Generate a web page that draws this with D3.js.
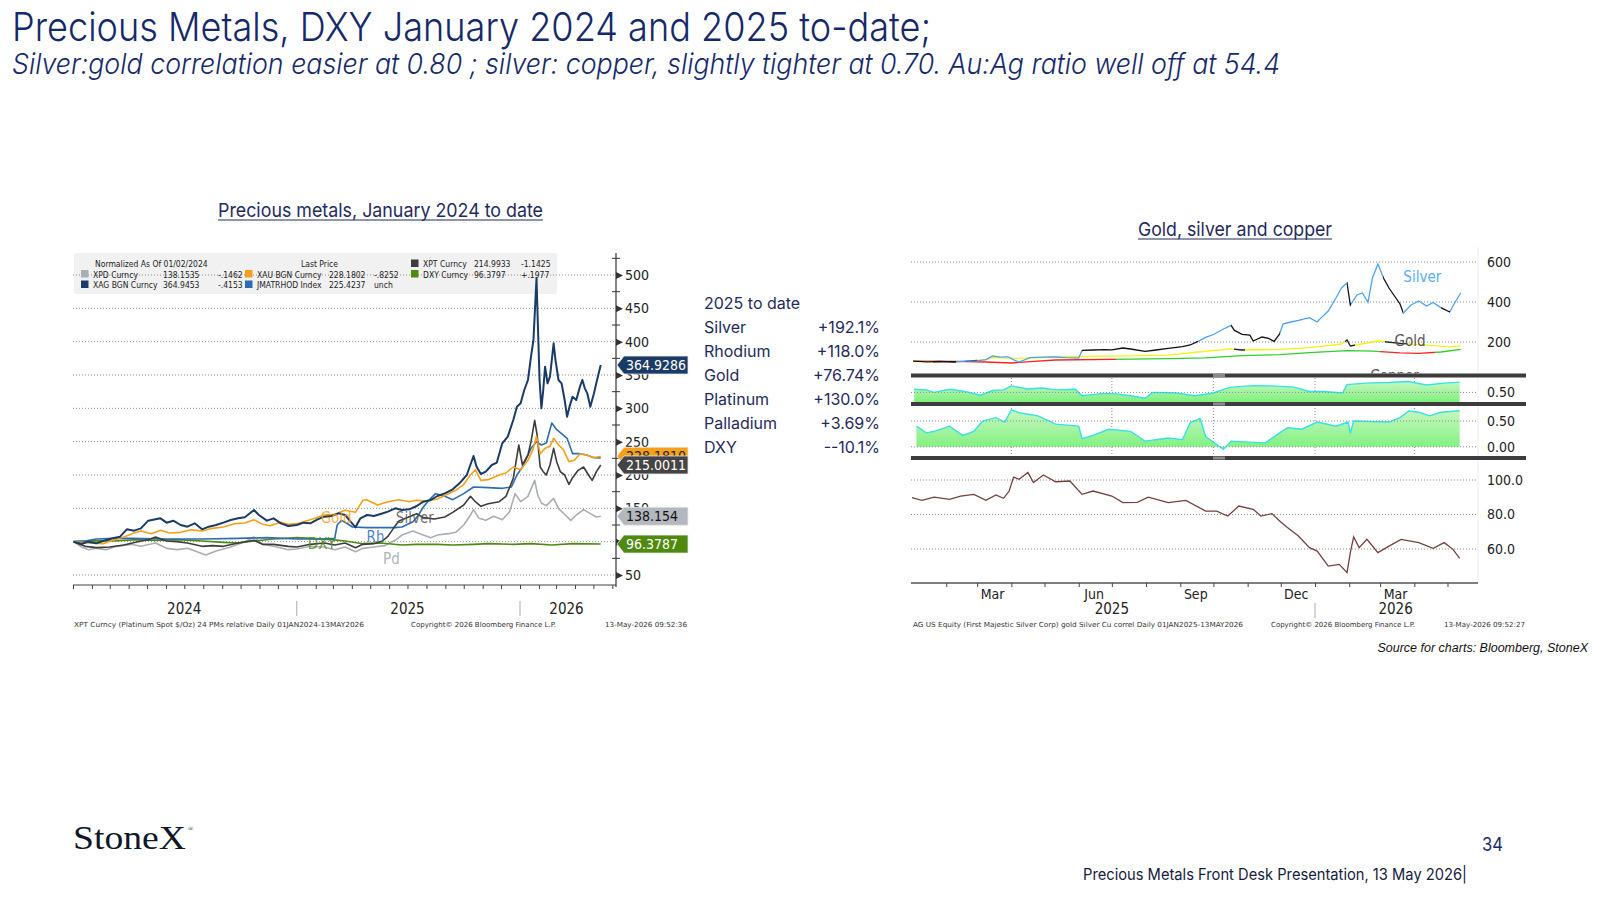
<!DOCTYPE html>
<html>
<head>
<meta charset="utf-8">
<title>Precious Metals, DXY</title>
<script src="https://cdn.jsdelivr.net/npm/d3@7"></script>
<style>
body { margin:0; background:#fff; }
svg { display:block; }
.grid { stroke:#8c8c8c; stroke-dasharray:1,2; stroke-width:1; }
</style>
</head>
<body>
<script>
//---------------- data ----------------

//slide texts
var mainTitle = "Precious Metals, DXY January 2024 and 2025 to-date;";
var subTitle = "Silver:gold correlation easier at 0.80 ; silver: copper, slightly tighter at 0.70.  Au:Ag ratio well off at 54.4";
var leftTitle = "Precious metals, January 2024 to date";
var rightTitle = "Gold, silver and copper";

//2025 to date table
var ytdNames = ["Silver", "Rhodium", "Gold", "Platinum", "Palladium", "DXY"];
var ytdValues = ["+192.1%", "+118.0%", "+76.74%", "+130.0%", "+3.69%", "--10.1%"];

//left chart, normalized to 100 on 01/02/2024
var silverPts = [
 ["2024-01-02",100],["2024-01-15",96.5],["2024-01-26",100],["2024-02-08",97.5],["2024-02-19",101],
 ["2024-03-06",105],["2024-03-18",107.5],["2024-03-29",118.5],["2024-04-10",116.5],["2024-04-21",120],
 ["2024-05-03",131.5],["2024-05-15",133.5],["2024-05-23",135],["2024-06-02",128.5],["2024-06-13",131.5],
 ["2024-06-25",125],["2024-07-06",122.5],["2024-07-18",127.5],["2024-07-30",118.5],["2024-08-10",122.5],
 ["2024-08-22",125],["2024-09-03",128.5],["2024-09-15",132.5],["2024-09-27",135],["2024-10-08",136.5],
 ["2024-10-23",147.5],["2024-10-31",140],["2024-11-13",131.5],["2024-11-24",135],["2024-12-06",127.5],
 ["2024-12-18",123.5],["2025-01-01",125],["2025-01-12",128.5],["2025-01-23",127.5],["2025-02-04",133.5],
 ["2025-02-15",137.5],["2025-02-27",138.5],["2025-03-10",142.5],["2025-03-21",140],["2025-03-30",130],
 ["2025-04-07",121.5],["2025-04-15",135],["2025-04-26",140],["2025-05-07",138.5],["2025-05-18",141.5],
 ["2025-05-30",145],["2025-06-11",150],["2025-06-22",147.5],["2025-07-04",148.5],["2025-07-16",153.5],
 ["2025-07-27",160],["2025-08-08",162.5],["2025-08-19",168.5],["2025-08-31",172.5],["2025-09-13",178.5],
 ["2025-09-24",187.5],["2025-10-06",200],["2025-10-17",228.5],["2025-10-22",212.5],["2025-10-29",201.5],
 ["2025-11-06",205],["2025-11-16",215],["2025-11-24",218.5],["2025-12-03",247.5],["2025-12-12",257.5],
 ["2025-12-21",282.5],["2025-12-27",302.5],["2026-01-02",307.5],["2026-01-08",327.5],["2026-01-14",342.5],
 ["2026-01-19",377.5],["2026-01-23",402.5],["2026-01-28",495],["2026-01-30",432.5],["2026-02-02",342.5],
 ["2026-02-05",300],["2026-02-08",327.5],["2026-02-11",362.5],["2026-02-15",337.5],["2026-02-19",347.5],
 ["2026-02-25",397.5],["2026-02-28",372.5],["2026-03-05",342.5],["2026-03-10",337.5],["2026-03-15",312.5],
 ["2026-03-19",287.5],["2026-03-23",302.5],["2026-03-28",317.5],["2026-04-03",312.5],["2026-04-09",332.5],
 ["2026-04-13",342.5],["2026-04-17",330],["2026-04-21",322.5],["2026-04-26",302.5],["2026-05-02",322.5],
 ["2026-05-07",342.5],["2026-05-13",364.9]
];
var goldPts = [
 ["2024-01-02",100],["2024-01-26",98],["2024-02-19",97],["2024-03-06",102],["2024-03-24",107],
 ["2024-04-10",113],["2024-04-21",116],["2024-05-08",112],["2024-05-23",117],["2024-06-07",113],
 ["2024-06-25",114],["2024-07-12",118],["2024-07-30",116],["2024-08-16",120],["2024-09-03",122],
 ["2024-09-21",127],["2024-10-08",128],["2024-10-23",133],["2024-11-06",126],["2024-11-18",124],
 ["2024-12-06",129],["2024-12-18",126],["2025-01-01",127],["2025-01-23",133],["2025-02-15",140],
 ["2025-03-04",141],["2025-03-21",147],["2025-04-07",144],["2025-04-19",162],["2025-04-25",163],
 ["2025-05-13",155],["2025-05-30",160],["2025-06-17",163],["2025-07-04",160],["2025-07-16",162],
 ["2025-08-02",161],["2025-08-19",164],["2025-09-06",172],["2025-09-18",177],["2025-10-01",186],
 ["2025-10-12",200],["2025-10-20",208],["2025-10-29",192],["2025-11-10",193],["2025-11-28",200],
 ["2025-12-09",203],["2025-12-21",212],["2026-01-02",208],["2026-01-14",222],["2026-01-22",238],
 ["2026-01-28",258],["2026-02-03",232],["2026-02-11",240],["2026-02-19",243],["2026-02-25",255],
 ["2026-03-05",245],["2026-03-13",238],["2026-03-22",220],["2026-03-31",222],["2026-04-09",232],
 ["2026-04-20",230],["2026-05-02",226],["2026-05-13",228.2]
];
var platPts = [
 ["2024-01-02",100],["2024-01-21",93],["2024-02-08",91],["2024-03-01",92],["2024-03-24",95],
 ["2024-04-16",100],["2024-05-03",103],["2024-05-15",107],["2024-06-02",101],["2024-06-19",100],
 ["2024-07-06",98],["2024-07-30",93],["2024-08-16",94],["2024-09-03",93],["2024-09-27",98],
 ["2024-10-23",102],["2024-11-06",96],["2024-11-24",96],["2024-12-18",93],["2025-01-01",92],
 ["2025-01-23",96],["2025-02-15",98],["2025-03-04",95],["2025-03-21",98],["2025-04-07",91],
 ["2025-04-19",96],["2025-05-07",97],["2025-05-21",101],["2025-05-30",108],["2025-06-08",120],
 ["2025-06-17",131],["2025-06-28",135],["2025-07-16",142],["2025-07-27",136],["2025-08-14",134],
 ["2025-08-31",137],["2025-09-13",144],["2025-10-01",155],["2025-10-12",168],["2025-10-20",160],
 ["2025-10-29",153],["2025-11-10",157],["2025-11-28",160],["2025-12-09",168],["2025-12-21",195],
 ["2025-12-30",245],["2026-01-05",215],["2026-01-14",230],["2026-01-19",250],["2026-01-25",282],
 ["2026-01-29",260],["2026-02-03",212],["2026-02-08",205],["2026-02-13",200],["2026-02-19",215],
 ["2026-02-25",240],["2026-03-02",220],["2026-03-08",205],["2026-03-15",200],["2026-03-22",186],
 ["2026-03-28",196],["2026-04-06",207],["2026-04-15",212],["2026-04-23",200],["2026-04-29",192],
 ["2026-05-06",205],["2026-05-13",215]
];
var pallPts = [
 ["2024-01-02",100],["2024-01-15",92],["2024-01-26",88],["2024-02-08",90],["2024-02-24",88],
 ["2024-03-12",93],["2024-04-05",96],["2024-04-21",93],["2024-05-15",98],["2024-06-02",90],
 ["2024-06-19",88],["2024-07-06",90],["2024-07-24",84],["2024-08-05",80],["2024-08-22",86],
 ["2024-09-15",92],["2024-10-08",100],["2024-10-23",107],["2024-11-06",96],["2024-11-24",93],
 ["2024-12-18",88],["2025-01-01",89],["2025-01-23",93],["2025-02-15",92],["2025-03-04",88],
 ["2025-03-21",92],["2025-04-07",85],["2025-04-19",90],["2025-05-07",92],["2025-05-24",94],
 ["2025-06-11",102],["2025-06-22",110],["2025-07-10",116],["2025-07-21",112],["2025-08-08",106],
 ["2025-08-19",110],["2025-09-06",112],["2025-09-18",114],["2025-10-01",125],["2025-10-12",140],
 ["2025-10-17",148],["2025-10-26",135],["2025-11-06",132],["2025-11-19",138],["2025-12-03",133],
 ["2025-12-15",145],["2025-12-24",172],["2026-01-02",160],["2026-01-14",168],["2026-01-25",192],
 ["2026-01-30",170],["2026-02-05",158],["2026-02-13",154],["2026-02-25",165],["2026-03-05",150],
 ["2026-03-16",140],["2026-03-25",132],["2026-04-03",140],["2026-04-15",148],["2026-04-26",142],
 ["2026-05-06",137],["2026-05-13",138.2]
];
var rhodPts = [
 ["2024-01-02",100],["2024-01-21",101],["2024-02-08",104],["2024-03-06",105],["2024-04-05",105],
 ["2024-06-02",104],["2024-07-30",104],["2024-09-27",105],["2024-11-13",106],["2025-01-01",104],
 ["2025-02-15",104],["2025-03-04",105],["2025-03-08",125],["2025-03-15",132],["2025-03-23",128],
 ["2025-04-02",122],["2025-04-26",121],["2025-05-18",121],["2025-06-11",121],["2025-06-22",122],
 ["2025-07-10",130],["2025-07-19",140],["2025-07-27",152],["2025-08-08",165],["2025-08-16",172],
 ["2025-08-31",168],["2025-09-13",163],["2025-10-01",172],["2025-10-17",182],["2025-11-10",181],
 ["2025-12-03",180],["2025-12-18",182],["2025-12-27",200],["2026-01-05",212],["2026-01-19",240],
 ["2026-01-28",250],["2026-02-05",245],["2026-02-13",248],["2026-02-22",278],["2026-03-02",268],
 ["2026-03-10",262],["2026-03-19",255],["2026-03-28",232],["2026-04-09",232],["2026-04-20",230],
 ["2026-05-02",226],["2026-05-13",225.4]
];
var dxyPts = [
 ["2024-01-02",100],["2024-02-08",101.5],["2024-03-06",101],["2024-04-16",103],["2024-05-15",102],
 ["2024-06-19",103],["2024-07-30",101],["2024-09-03",99],["2024-09-27",98],["2024-10-23",101],
 ["2024-11-24",104],["2025-01-01",106],["2025-01-23",105],["2025-02-27",103],["2025-03-21",101],
 ["2025-04-19",97],["2025-05-18",98],["2025-06-22",95],["2025-07-16",96],["2025-08-19",96],
 ["2025-09-13",95],["2025-10-17",96],["2025-11-10",97],["2025-12-21",96],["2026-01-19",97],
 ["2026-02-22",95],["2026-03-28",97],["2026-05-13",96.4]
];
var leftTicks = [50, 100, 150, 200, 250, 300, 350, 400, 450, 500];
var leftYears = ["2024", "2025", "2026"];
var leftYearDates = ["2024-07-01", "2025-07-01", "2026-03-18"];
var leftNotes = [["Gold","2025-02-09",128],["Silver","2025-06-12",128],["Rh","2025-04-25",99.5],["DXY","2025-01-19",89],["Pd","2025-05-22",66.5]];
var tagValues = [364.9286, 228.1810, 215.0011, 138.154, 96.3787];
var tagTexts = ["364.9286", "228.1810", "215.0011", "138.154", "96.3787"];

//bloomberg legend
var legendNames = ["XPD Curncy", "XAG BGN Curncy", "XAU BGN Curncy", "JMATRHOD Index", "XPT Curncy", "DXY Curncy"];
var legendLast = ["138.1535", "364.9453", "228.1802", "225.4237", "214.9933", "96.3797"];
var legendChange = ["-.1462", "-.4153", "-.8252", "unch", "-1.1425", "+.1977"];

//right chart: AG / gold / copper rebased
var agPts = [
 ["2025-01-02",104],["2025-01-15",101],["2025-01-26",103],["2025-02-08",100],["2025-02-18",104],
 ["2025-03-01",106],["2025-03-09",112],["2025-03-15",130],["2025-03-22",124],["2025-03-29",126],
 ["2025-04-04",108],["2025-04-08",100],["2025-04-18",122],["2025-04-28",124],["2025-05-11",125],
 ["2025-05-20",122],["2025-06-01",120],["2025-06-04",158],["2025-06-14",160],["2025-06-24",162],
 ["2025-07-01",161],["2025-07-11",170],["2025-07-18",165],["2025-07-31",153],["2025-08-10",160],
 ["2025-08-21",168],["2025-09-03",177],["2025-09-10",185],["2025-09-17",203],["2025-09-24",223],
 ["2025-10-02",240],["2025-10-10",265],["2025-10-17",283],["2025-10-20",258],["2025-10-27",238],
 ["2025-11-03",234],["2025-11-06",205],["2025-11-14",225],["2025-11-20",218],["2025-11-25",203],
 ["2025-11-30",240],["2025-12-03",290],["2025-12-10",300],["2025-12-17",308],["2025-12-27",322],
 ["2026-01-03",300],["2026-01-06",318],["2026-01-13",355],["2026-01-20",420],["2026-01-25",470],
 ["2026-01-30",495],["2026-02-02",385],["2026-02-08",435],["2026-02-13",445],["2026-02-18",398],
 ["2026-02-22",520],["2026-02-27",590],["2026-03-04",520],["2026-03-09",470],["2026-03-14",430],
 ["2026-03-19",390],["2026-03-22",345],["2026-03-29",385],["2026-04-05",405],["2026-04-12",380],
 ["2026-04-18",398],["2026-04-25",372],["2026-05-03",350],["2026-05-08",400],["2026-05-13",445]
];
var goldRPts = [
 ["2025-01-02",104],["2025-01-20",101],["2025-02-18",103],["2025-03-09",112],["2025-03-15",122],
 ["2025-04-08",118],["2025-05-11",125],["2025-06-01",128],["2025-07-18",131],["2025-08-21",134],
 ["2025-09-17",150],["2025-10-17",166],["2025-10-27",160],["2025-11-30",163],["2025-12-27",172],
 ["2026-01-25",190],["2026-01-30",210],["2026-02-02",180],["2026-02-27",205],["2026-03-19",193],
 ["2026-04-12",184],["2026-05-03",176],["2026-05-13",182]
];
var copperPts = [
 ["2025-01-02",104],["2025-02-10",103],["2025-03-09",100],["2025-04-01",95],["2025-04-18",102],
 ["2025-05-11",110],["2025-07-18",114],["2025-08-21",117],["2025-09-24",121],["2025-10-27",132],
 ["2025-11-30",137],["2025-12-27",147],["2026-01-30",157],["2026-02-22",154],["2026-03-19",146],
 ["2026-04-05",143],["2026-04-25",150],["2026-05-13",163]
];
//silver:gold correlation
var corrAuPts = [
 ["2025-01-03",0.60],["2025-01-14",0.58],["2025-01-21",0.50],["2025-02-04",0.60],["2025-02-18",0.53],
 ["2025-03-04",0.41],["2025-03-15",0.56],["2025-03-25",0.58],["2025-04-01",0.71],["2025-04-15",0.61],
 ["2025-04-29",0.64],["2025-05-11",0.58],["2025-05-29",0.60],["2025-06-04",0.39],["2025-06-21",0.46],
 ["2025-07-04",0.46],["2025-07-18",0.39],["2025-07-31",0.31],["2025-08-07",0.50],["2025-08-28",0.48],
 ["2025-09-14",0.39],["2025-09-24",0.44],["2025-10-01",0.48],["2025-10-10",0.60],["2025-10-17",0.67],
 ["2025-11-06",0.72],["2025-11-23",0.71],["2025-12-13",0.67],["2025-12-27",0.53],["2026-01-09",0.53],
 ["2026-01-26",0.48],["2026-01-30",0.75],["2026-02-16",0.80],["2026-03-09",0.82],["2026-03-26",0.85],
 ["2026-04-12",0.74],["2026-04-28",0.80],["2026-05-12",0.83]
];
//silver:copper correlation
var corrCuPts = [
 ["2025-01-05",0.40],["2025-01-14",0.27],["2025-01-21",0.30],["2025-02-04",0.40],["2025-02-16",0.22],
 ["2025-02-26",0.30],["2025-03-06",0.50],["2025-03-18",0.565],["2025-03-26",0.48],["2025-04-01",0.715],
 ["2025-04-08",0.66],["2025-04-25",0.60],["2025-05-11",0.44],["2025-06-01",0.40],["2025-06-04",0.157],
 ["2025-06-14",0.22],["2025-06-28",0.34],["2025-07-18",0.30],["2025-07-31",0.11],["2025-08-21",0.17],
 ["2025-09-03",0.14],["2025-09-10",0.47],["2025-09-19",0.545],["2025-09-24",0.20],["2025-10-04",0.045],
 ["2025-10-10",-0.05],["2025-10-17",0.11],["2025-11-03",0.09],["2025-11-17",0.076],["2025-11-30",0.27],
 ["2025-12-07",0.37],["2025-12-20",0.34],["2026-01-03",0.48],["2026-01-20",0.40],["2026-01-31",0.48],
 ["2026-02-02",0.26],["2026-02-05",0.50],["2026-03-09",0.48],["2026-03-19",0.565],["2026-03-27",0.695],
 ["2026-04-05",0.67],["2026-04-15",0.60],["2026-04-25",0.67],["2026-05-12",0.70]
];
//gold:silver ratio
var ratioPts = [
 ["2025-01-01",89.8],["2025-01-10",88.2],["2025-01-21",90.1],["2025-02-04",88.8],["2025-02-14",90.7],
 ["2025-02-26",91.7],["2025-03-09",88.2],["2025-03-18",91.3],["2025-03-25",89.4],["2025-03-30",93.6],
 ["2025-04-03",101.7],["2025-04-08",100.4],["2025-04-16",104.3],["2025-04-21",98.5],["2025-04-30",102.9],
 ["2025-05-11",99.0],["2025-05-24",99.4],["2025-06-04",91.7],["2025-06-14",93.6],["2025-07-01",90.7],
 ["2025-07-11",86.9],["2025-07-24",87.0],["2025-08-03",90.1],["2025-08-21",86.9],["2025-09-06",88.2],
 ["2025-09-24",82.0],["2025-10-04",82.0],["2025-10-14",79.1],["2025-10-24",84.9],["2025-11-06",83.0],
 ["2025-11-13",79.1],["2025-11-23",80.5],["2025-11-30",76.2],["2025-12-07",72.4],["2025-12-17",67.5],
 ["2025-12-27",60.8],["2026-01-03",58.8],["2026-01-13",50.1],["2026-01-23",51.1],["2026-01-30",46.3],
 ["2026-02-02",57.9],["2026-02-05",67.0],["2026-02-10",60.8],["2026-02-17",65.6],["2026-02-27",57.9],
 ["2026-03-09",61.7],["2026-03-20",65.6],["2026-04-05",63.7],["2026-04-18",60.4],["2026-04-28",63.7],
 ["2026-05-06",59.8],["2026-05-12",54.6]
];
var topTicks = [200, 400, 600];
var corrAuTicks = [0.5];
var corrCuTicks = [0, 0.5];
var ratioTicks = [60, 80, 100];
var monthLabels = ["Mar", "Jun", "Sep", "Dec", "Mar"];
var monthLabelDates = ["2025-03-15", "2025-06-15", "2025-09-15", "2025-12-15", "2026-03-15"];
var rightYears = ["2025", "2026"];
var rightYearDates = ["2025-07-01", "2026-03-15"];
var rightNotes = [["Silver","2026-03-22",500],["Gold","2026-03-14",180],["Copper","2026-02-20",5]];
//up/down colouring spans
var agDarkSpans = [["2025-01-01","2025-02-10"],["2025-06-04","2025-09-17"],["2025-10-17","2025-11-30"],["2026-01-30","2026-02-03"],["2026-03-04","2026-03-22"],["2026-04-25","2026-05-03"]];
var goldDarkSpans = [["2025-01-20","2025-03-01"],["2025-10-20","2025-10-30"],["2026-01-28","2026-02-06"],["2026-03-05","2026-03-25"]];
var copperRedSpans = [["2025-01-01","2025-07-05"],["2026-03-01","2026-04-20"]];

//---------------- drawing ----------------
var parseDate = d3.timeParse("%Y-%m-%d");
var bbg = "'DejaVu Sans Condensed','DejaVu Sans',sans-serif";
var slide = "Inter,'Noto Sans',sans-serif";
var navy = "#15296a";

var svg = d3.select("body").append("svg").attr("width", 1600).attr("height", 900);
var defs = svg.append("defs");

function fit(sel, len){
    sel.attr("textLength", len).attr("lengthAdjust", "spacingAndGlyphs");
}

drawSlide();
drawLeft();
drawRight();

function drawSlide(){
    svg.append("text").attr("x", 12).attr("y", 41)
        .attr("font-family", slide).attr("font-size", 40).attr("font-weight", 300).attr("fill", navy)
        .text(mainTitle).call(fit, 919);
    svg.append("text").attr("x", 12).attr("y", 74)
        .attr("font-family", slide).attr("font-size", 29).attr("font-weight", 300)
        .attr("font-style", "italic").attr("fill", navy)
        .text(subTitle).call(fit, 1268);

    //chart titles, underlined
    [[leftTitle, 218, 217, 325], [rightTitle, 1138, 236, 194]].forEach(function(t){
        svg.append("text").attr("x", t[1]).attr("y", t[2])
            .attr("font-family", slide).attr("font-size", 19).attr("fill", "#1f2a5c")
            .text(t[0]).call(fit, t[3]);
        svg.append("line").attr("x1", t[1]).attr("x2", t[1] + t[3])
            .attr("y1", t[2] + 3).attr("y2", t[2] + 3)
            .attr("stroke", "#1f2a5c").attr("stroke-width", 1);
    });

    //2025 to date table
    svg.append("text").attr("x", 704).attr("y", 309)
        .attr("font-family", slide).attr("font-size", 16).attr("fill", "#1f2a5c").text("2025 to date");
    var rows = svg.append("g").selectAll("g").data(ytdNames).enter().append("g");
    rows.append("text").attr("x", 704).attr("y", function(d, i){ return 333 + i * 24; })
        .attr("font-family", slide).attr("font-size", 16).attr("fill", "#1f2a5c").text(function(d){ return d; });
    rows.append("text").attr("x", 880).attr("y", function(d, i){ return 333 + i * 24; })
        .attr("text-anchor", "end")
        .attr("font-family", slide).attr("font-size", 16).attr("fill", "#1f2a5c").text(function(d, i){ return ytdValues[i]; });

    //footer
    svg.append("text").attr("x", 1588).attr("y", 652).attr("text-anchor", "end")
        .attr("font-family", "'Liberation Sans',Arial,sans-serif").attr("font-size", 12.5)
        .attr("font-style", "italic").attr("fill", "#111").text("Source for charts: Bloomberg, StoneX");
    svg.append("text").attr("x", 73).attr("y", 849)
        .attr("font-family", "'Liberation Serif','DejaVu Serif',serif").attr("font-size", 34)
        .attr("fill", "#101828").text("StoneX").call(fit, 113);
    svg.append("text").attr("x", 188).attr("y", 831)
        .attr("font-family", "'Liberation Serif',serif").attr("font-size", 7).attr("fill", "#101828").text("®");
    svg.append("text").attr("x", 1482).attr("y", 851)
        .attr("font-family", slide).attr("font-size", 19).attr("fill", navy).text("34").call(fit, 21);
    svg.append("text").attr("x", 1083).attr("y", 880)
        .attr("font-family", slide).attr("font-size", 15.5).attr("fill", "#14203c")
        .text("Precious Metals Front Desk Presentation, 13 May 2026|").call(fit, 384);
}

function toPts(arr){
    return arr.map(function(d){ return { date: parseDate(d[0]), value: d[1] }; });
}

function drawLeft(){
    var xL = d3.scaleTime().domain([parseDate("2024-01-01"), parseDate("2026-01-01")]).range([73, 520]);
    var yL = d3.scaleLinear().domain([50, 500]).range([575, 275]);

    //legend box (behind grid and lines)
    svg.append("rect").attr("x", 74).attr("y", 253).attr("width", 483).attr("height", 41)
        .attr("rx", 2).attr("fill", "#ececec").attr("fill-opacity", 0.75);

    //gridlines
    svg.append("g").selectAll("line").data(leftTicks).enter().append("line")
        .attr("class", "grid").attr("x1", 73).attr("x2", 616)
        .attr("y1", function(d){ return yL(d); }).attr("y2", function(d){ return yL(d); });

    //series lines
    var line = d3.line().x(function(d){ return xL(d.date); }).y(function(d){ return yL(d.value); });
    var series = [
        [pallPts, "#a9aeb4", 1.6],
        [dxyPts, "#4f8a10", 1.6],
        [rhodPts, "#2d6cb3", 1.6],
        [platPts, "#3d3d3d", 1.6],
        [goldPts, "#f6a01a", 1.6],
        [silverPts, "#1a3b66", 2]
    ];
    series.forEach(function(s){
        svg.append("path").datum(toPts(s[0]))
            .attr("d", line).attr("fill", "none")
            .attr("stroke", s[1]).attr("stroke-width", s[2]).attr("stroke-linejoin", "round");
    });

    //inline labels
    var noteColors = ["#f6a01a", "#555", "#2d6cb3", "#4f8a10", "#a0a4aa"];
    svg.append("g").selectAll("text").data(leftNotes).enter().append("text")
        .attr("x", function(d){ return xL(parseDate(d[1])); })
        .attr("y", function(d){ return yL(d[2]); })
        .attr("font-family", bbg).attr("font-size", 15)
        .attr("fill", function(d, i){ return noteColors[i]; }).attr("fill-opacity", 0.85)
        .text(function(d){ return d[0]; });

    //legend text
    var legColors = ["#a9aeb4", "#1a3b66", "#f6a01a", "#2d6cb3", "#3d3d3d", "#4f8a10"];
    var legCol = [0, 0, 1, 1, 2, 2], legRow = [1, 2, 1, 2, 0, 1];
    var colX = [[81, 93, 163, 218], [245, 257, 329, 374], [411, 423, 474, 521]];
    var rowY = [267, 277.5, 288];
    var lg = svg.append("g").attr("font-family", bbg).attr("font-size", 8.5).attr("fill", "#222");
    lg.append("text").attr("x", 95).attr("y", rowY[0]).text("Normalized As Of 01/02/2024");
    lg.append("text").attr("x", 301).attr("y", rowY[0]).text("Last Price");
    legendNames.forEach(function(n, i){
        var c = colX[legCol[i]], y = rowY[legRow[i]];
        lg.append("rect").attr("x", c[0]).attr("y", y - 7.5).attr("width", 7.5).attr("height", 7.5).attr("fill", legColors[i]);
        lg.append("text").attr("x", c[1]).attr("y", y).text(n);
        lg.append("text").attr("x", c[2]).attr("y", y).text(legendLast[i]);
        lg.append("text").attr("x", c[3]).attr("y", y).text(legendChange[i]);
    });

    //right value axis
    svg.append("line").attr("x1", 616).attr("x2", 616).attr("y1", 253).attr("y2", 587)
        .attr("stroke", "#333").attr("stroke-width", 1.2);
    var ax = svg.append("g").attr("transform", "translate(616,0)")
        .call(d3.axisRight(yL).tickValues(leftTicks).tickSize(0).tickPadding(9));
    ax.select(".domain").remove();
    ax.selectAll("text").attr("font-family", bbg).attr("font-size", 14).attr("fill", "#222");
    ax.selectAll(".tick").append("path").attr("d", "M0,-3.5L7,0L0,3.5Z").attr("fill", "#333");
    svg.append("g").selectAll("line").data(d3.range(75, 526, 50)).enter().append("line")
        .attr("x1", 612).attr("x2", 620)
        .attr("y1", function(d){ return yL(d); }).attr("y2", function(d){ return yL(d); })
        .attr("stroke", "#333");

    //last price tags
    var tagFill = ["#1a3b66", "#f6a01a", "#444444", "#b3b8be", "#4f8a10"];
    var tagInk = ["#fff", "#222", "#fff", "#111", "#fff"];
    tagValues.forEach(function(v, i){
        var y = yL(v);
        svg.append("path")
            .attr("d", "M617," + y + "L624," + (y - 9) + "L688," + (y - 9) + "L688," + (y + 9) + "L624," + (y + 9) + "Z")
            .attr("fill", tagFill[i]).attr("stroke", "#e8e8e8").attr("stroke-width", 0.8);
        svg.append("text").attr("x", 626).attr("y", y + 5)
            .attr("font-family", bbg).attr("font-size", 14).attr("fill", tagInk[i]).text(tagTexts[i]);
    });

    //time axis
    svg.append("line").attr("x1", 73).attr("x2", 616).attr("y1", 585).attr("y2", 585)
        .attr("stroke", "#444").attr("stroke-width", 1.2);
    var bx = svg.append("g").attr("transform", "translate(0,585)")
        .call(d3.axisBottom(xL).tickValues(d3.timeMonth.range(parseDate("2024-01-01"), xL.invert(616)))
            .tickSize(4).tickFormat(""));
    bx.select(".domain").remove();
    bx.selectAll("line").attr("stroke", "#444");
    svg.append("g").selectAll("text").data(leftYears).enter().append("text")
        .attr("x", function(d, i){ return xL(parseDate(leftYearDates[i])); }).attr("y", 614)
        .attr("text-anchor", "middle").attr("font-family", bbg).attr("font-size", 15).attr("fill", "#222")
        .text(function(d){ return d; });
    svg.append("g").selectAll("line").data(["2025-01-01", "2026-01-01"]).enter().append("line")
        .attr("x1", function(d){ return xL(parseDate(d)); }).attr("x2", function(d){ return xL(parseDate(d)); })
        .attr("y1", 601).attr("y2", 616).attr("stroke", "#aaa");

    //source line
    var ft = svg.append("g").attr("font-family", bbg).attr("font-size", 7).attr("fill", "#333");
    ft.append("text").attr("x", 74).attr("y", 627).text("XPT Curncy (Platinum Spot $/Oz) 24 PMs relative Daily 01JAN2024-13MAY2026").call(fit, 290);
    ft.append("text").attr("x", 411).attr("y", 627).text("Copyright© 2026 Bloomberg Finance L.P.").call(fit, 145);
    ft.append("text").attr("x", 605).attr("y", 627).text("13-May-2026 09:52:36").call(fit, 82);
}

function drawRight(){
    var xR = d3.scaleTime().domain([parseDate("2025-01-01"), parseDate("2026-01-01")]).range([912, 1315]);
    var yTop = d3.scaleLinear().domain([200, 600]).range([342, 262]);
    var yAu = d3.scaleLinear().domain([0, 1]).range([407.9, 376.9]);
    var yCu = d3.scaleLinear().domain([0, 0.5]).range([446.8, 421]);
    var yRat = d3.scaleLinear().domain([60, 100]).range([549, 480]);
    var xEnd = 1478;

    function hgrid(ticks, scale){
        svg.append("g").selectAll("line").data(ticks).enter().append("line")
            .attr("class", "grid").attr("x1", 911).attr("x2", xEnd)
            .attr("y1", function(d){ return scale(d); }).attr("y2", function(d){ return scale(d); });
    }
    function yAxis(ticks, scale, fmt){
        var a = svg.append("g").attr("transform", "translate(" + xEnd + ",0)")
            .call(d3.axisRight(scale).tickValues(ticks).tickSize(0).tickPadding(9).tickFormat(fmt));
        a.select(".domain").remove();
        a.selectAll("text").attr("font-family", bbg).attr("font-size", 14).attr("fill", "#222");
    }
    function segGradient(id, base, alt, spans){
        var x0 = 912, x1 = xEnd;
        var g = defs.append("linearGradient").attr("id", id).attr("gradientUnits", "userSpaceOnUse")
            .attr("x1", x0).attr("x2", x1).attr("y1", 0).attr("y2", 0);
        function off(d){ return Math.max(0, Math.min(1, (xR(parseDate(d)) - x0) / (x1 - x0))); }
        g.append("stop").attr("offset", 0).attr("stop-color", base);
        spans.forEach(function(s){
            g.append("stop").attr("offset", off(s[0])).attr("stop-color", base);
            g.append("stop").attr("offset", off(s[0])).attr("stop-color", alt);
            g.append("stop").attr("offset", off(s[1])).attr("stop-color", alt);
            g.append("stop").attr("offset", off(s[1])).attr("stop-color", base);
        });
        g.append("stop").attr("offset", 1).attr("stop-color", base);
    }

    svg.append("line").attr("x1", xEnd).attr("x2", xEnd).attr("y1", 247).attr("y2", 583)
        .attr("stroke", "#eee");

    //panel 1 : rebased prices
    defs.append("clipPath").attr("id", "p1clip").append("rect")
        .attr("x", 905).attr("y", 240).attr("width", 600).attr("height", 133.5);
    hgrid(topTicks, yTop);
    yAxis(topTicks, yTop, d3.format("d"));
    segGradient("agGrad", "#4aa3f2", "#111", agDarkSpans);
    segGradient("auGrad", "#f3f312", "#222", goldDarkSpans);
    segGradient("cuGrad", "#2ecf2e", "#ff2222", copperRedSpans);
    var p1 = svg.append("g").attr("clip-path", "url(#p1clip)");
    var lineTop = d3.line().x(function(d){ return xR(d.date); }).y(function(d){ return yTop(d.value); });
    [[copperPts, "cuGrad"], [goldRPts, "auGrad"], [agPts, "agGrad"]].forEach(function(s){
        p1.append("path").datum(toPts(s[0])).attr("d", lineTop).attr("fill", "none")
            .attr("stroke", "url(#" + s[1] + ")").attr("stroke-width", 1.3);
    });
    var noteColors = ["#5aaef5", "#555", "#555"];
    p1.selectAll("text.note").data(rightNotes).enter().append("text")
        .attr("x", function(d){ return xR(parseDate(d[1])); }).attr("y", function(d){ return yTop(d[2]); })
        .attr("font-family", bbg).attr("font-size", 15)
        .attr("fill", function(d, i){ return noteColors[i]; }).text(function(d){ return d[0]; });

    //correlation panels
    var fillGrad = defs.append("linearGradient").attr("id", "greenFill").attr("x1", 0).attr("x2", 0).attr("y1", 0).attr("y2", 1);
    fillGrad.append("stop").attr("offset", 0).attr("stop-color", "#c8f7c0");
    fillGrad.append("stop").attr("offset", 1).attr("stop-color", "#7ef07e");
    var quarters = ["2025-04-01", "2025-07-01", "2025-10-01", "2026-01-01", "2026-04-01"];
    svg.append("g").selectAll("line").data(quarters).enter().append("line")
        .attr("class", "grid")
        .attr("x1", function(d){ return xR(parseDate(d)); }).attr("x2", function(d){ return xR(parseDate(d)); })
        .attr("y1", 378).attr("y2", 456);

    var au = toPts(corrAuPts);
    svg.append("path").datum(au).attr("fill", "url(#greenFill)")
        .attr("d", d3.area().x(function(d){ return xR(d.date); }).y0(402).y1(function(d){ return yAu(d.value); }));
    svg.append("path").datum(au).attr("fill", "none").attr("stroke", "#33e3e8").attr("stroke-width", 1.4)
        .attr("d", d3.line().x(function(d){ return xR(d.date); }).y(function(d){ return yAu(d.value); }));
    hgrid(corrAuTicks, yAu);
    yAxis(corrAuTicks, yAu, d3.format(".2f"));

    var cu = toPts(corrCuPts);
    svg.append("path").datum(cu).attr("fill", "url(#greenFill)")
        .attr("d", d3.area().x(function(d){ return xR(d.date); }).y0(yCu(0)).y1(function(d){ return yCu(d.value); }));
    svg.append("path").datum(cu).attr("fill", "none").attr("stroke", "#33e3e8").attr("stroke-width", 1.4)
        .attr("d", d3.line().x(function(d){ return xR(d.date); }).y(function(d){ return yCu(d.value); }));
    hgrid(corrCuTicks, yCu);
    yAxis(corrCuTicks, yCu, d3.format(".2f"));

    //panel 4 : gold/silver ratio
    hgrid(ratioTicks, yRat);
    yAxis(ratioTicks, yRat, d3.format(".1f"));
    svg.append("path").datum(toPts(ratioPts)).attr("fill", "none")
        .attr("stroke", "#73403f").attr("stroke-width", 1.3)
        .attr("d", d3.line().x(function(d){ return xR(d.date); }).y(function(d){ return yRat(d.value); }));

    //panel separators
    [375.5, 404, 458].forEach(function(y){
        svg.append("rect").attr("x", 911).attr("y", y - 2).attr("width", 615).attr("height", 4).attr("fill", "#3c3c3c");
        svg.append("rect").attr("x", 1213).attr("y", y - 1.5).attr("width", 12).attr("height", 3).attr("fill", "#8a8a8a");
    });

    //time axis
    svg.append("line").attr("x1", 911).attr("x2", xEnd).attr("y1", 583).attr("y2", 583)
        .attr("stroke", "#555").attr("stroke-width", 1.5);
    var bx = svg.append("g").attr("transform", "translate(0,583)")
        .call(d3.axisBottom(xR).tickValues(d3.timeMonth.range(parseDate("2025-02-01"), xR.invert(xEnd)))
            .tickSize(4).tickFormat(""));
    bx.select(".domain").remove();
    bx.selectAll("line").attr("stroke", "#444");
    svg.append("g").selectAll("text").data(monthLabels).enter().append("text")
        .attr("x", function(d, i){ return xR(parseDate(monthLabelDates[i])); }).attr("y", 599)
        .attr("text-anchor", "middle").attr("font-family", bbg).attr("font-size", 14).attr("fill", "#222")
        .text(function(d){ return d; });
    svg.append("g").selectAll("text").data(rightYears).enter().append("text")
        .attr("x", function(d, i){ return xR(parseDate(rightYearDates[i])); }).attr("y", 614)
        .attr("text-anchor", "middle").attr("font-family", bbg).attr("font-size", 15).attr("fill", "#222")
        .text(function(d){ return d; });
    svg.append("line").attr("x1", xR(parseDate("2026-01-01"))).attr("x2", xR(parseDate("2026-01-01")))
        .attr("y1", 603).attr("y2", 618).attr("stroke", "#aaa");

    var ft = svg.append("g").attr("font-family", bbg).attr("font-size", 7).attr("fill", "#333");
    ft.append("text").attr("x", 913).attr("y", 627).text("AG US Equity (First Majestic Silver Corp) gold Silver Cu correl Daily 01JAN2025-13MAY2026").call(fit, 330);
    ft.append("text").attr("x", 1271).attr("y", 627).text("Copyright© 2026 Bloomberg Finance L.P.").call(fit, 144);
    ft.append("text").attr("x", 1444).attr("y", 627).text("13-May-2026 09:52:27").call(fit, 81);
}
</script>
</body>
</html>
